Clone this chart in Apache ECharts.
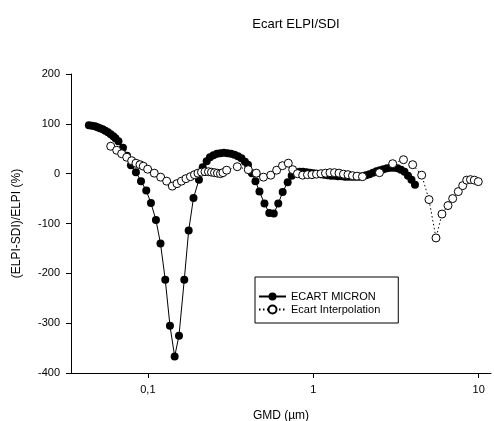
<!DOCTYPE html>
<html>
<head>
<meta charset="utf-8">
<script src="https://cdn.jsdelivr.net/npm/echarts@6/dist/echarts.min.js"></script>
<style>html,body{margin:0;padding:0;background:#fff}#c{width:494px;height:421px}</style>
</head>
<body>
<div id="c"></div>
<script>
// ECART MICRON: GMD (µm) and deviation (%)
const micronX = [0.0440,0.0459,0.0479,0.0496,0.0513,0.0533,0.0553,0.0574,0.0596,0.0618,0.0637,0.0664,0.0707,0.0748,0.0790,0.0847,0.0909,0.0978,0.1044,0.1119,0.1192,0.1274,0.1360,0.1452,0.1542,0.1660,0.1765,0.1887,0.2036,0.2145,0.2267,0.2374,0.2492,0.2617,0.2747,0.2884,0.3029,0.3180,0.3339,0.3505,0.3680,0.3864,0.4029,0.4259,0.4472,0.4728,0.5069,0.5420,0.5771,0.6143,0.6531,0.7002,0.7404,0.7805,0.8252,0.8663,0.9097,0.9550,1.0028,1.0529,1.1054,1.1605,1.2185,1.2794,1.3432,1.4102,1.4807,1.5546,1.6322,1.7140,1.7992,1.8892,1.9835,2.0825,2.1866,2.2955,2.4105,2.5309,2.6572,2.7901,2.9296,3.0753,3.2292,3.3897,3.5591,3.7371,3.9232,4.1199];
const micronY = [97,96,95,93,91,89,86,83,79,75,71,65,52,36,17,3,-15,-34,-59,-93,-140,-213,-305,-367,-325,-213,-114,-49,-12,13,25,33,37,40,41,42,41,40,38,35,31,24,18,1,-15,-36,-60,-79,-80,-60,-37,-17,-4,1,4,4,3,2,1,0,-1,-2,-3,-4,-4,-5,-5,-6,-6,-6,-6,-6,-5,-3,-1,2,5,7,9,11,12,12,11,8,4,-4,-12,-22];

// Ecart Interpolation
const interpX = [0.0596,0.0648,0.0694,0.0745,0.0798,0.0847,0.0896,0.0938,0.0997,0.1093,0.1195,0.1299,0.1405,0.1500,0.1596,0.1699,0.1809,0.1913,0.2009,0.2109,0.2215,0.2325,0.2424,0.2528,0.2635,0.2747,0.2844,0.2995,0.3471,0.4046,0.4522,0.4998,0.5534,0.6007,0.6513,0.7062,0.7508,0.8026,0.8628,0.9225,0.9820,1.0455,1.1132,1.1852,1.2618,1.3432,1.4302,1.5223,1.6209,1.7258,1.8373,1.9835,2.5129,3.0205,3.5106,3.9902,4.5229,5.0061,5.5183,5.9990,6.5223,6.9634,7.5283,8.0058,8.4619,8.9207,9.4048,9.9447];
const interpY = [55,47,40,33,26,21,18,15,9,1,-7,-15,-25,-20,-15,-10,-6,-2,1,3,4,4,3,2,1,0,2,7,14,8,1,-7,-3,7,16,21,8,0,-3,-2,-2,-1,0,1,2,2,1,-1,-2,-4,-5,-6,2,20,28,18,-3,-52,-129,-81,-64,-50,-36,-24,-13,-12,-13,-16];

const xTicks = [0.1, 1, 10];
const yMin = -400, yMax = 200, yStep = 100;

const font = 'Liberation Sans, Arial, sans-serif';
const zip = (xs, ys) => xs.map((x, i) => [x, ys[i]]);

const chart = echarts.init(document.getElementById('c'), null, {renderer: 'canvas'});
chart.setOption({
  animation: false,
  backgroundColor: '#fff',
  title: {
    text: 'Ecart ELPI/SDI',
    left: 291, top: 13, textAlign: 'center',
    textStyle: {fontFamily: font, fontSize: 13, fontWeight: 'normal', color: '#000'}
  },
  grid: {left: 71, right: 3, top: 74, bottom: 48, containLabel: false, outerBoundsMode: 'none'},
  legend: {
    left: 255, top: 277, orient: 'vertical',
    borderColor: '#000', borderWidth: 1, borderRadius: 0,
    padding: [14, 18, 8, 3], itemGap: 2,
    itemWidth: 27, itemHeight: 10,
    textStyle: {fontFamily: font, fontSize: 11, color: '#000'},
    data: ['ECART MICRON', 'Ecart Interpolation']
  },
  xAxis: {
    type: 'log', logBase: 10, min: 0.0343, max: 11.87,
    name: 'GMD (µm)', nameLocation: 'middle', nameGap: 37,
    nameTextStyle: {fontFamily: font, fontSize: 12, color: '#000'},
    axisLine: {onZero: false, lineStyle: {color: '#000', width: 1}},
    axisTick: {show: true, length: 5, customValues: xTicks, lineStyle: {color: '#000'}},
    minorTick: {show: false},
    axisLabel: {customValues: xTicks, margin: 11, fontFamily: font, fontSize: 11, color: '#000',
      formatter: v => String(v).replace('.', ',')},
    splitLine: {show: false}
  },
  yAxis: {
    type: 'value', min: yMin, max: yMax, interval: yStep,
    name: '(ELPI-SDI)/ELPI (%)', nameLocation: 'middle', nameGap: 48,
    nameTextStyle: {fontFamily: font, fontSize: 12, color: '#000'},
    axisLine: {show: true, onZero: false, lineStyle: {color: '#000', width: 1}},
    axisTick: {show: true, length: 5, lineStyle: {color: '#000'}},
    axisLabel: {margin: 11, fontFamily: font, fontSize: 11, color: '#000'},
    splitLine: {show: false}
  },
  series: [
    {
      name: 'ECART MICRON', type: 'line', data: zip(micronX, micronY),
      symbol: 'circle', symbolSize: 8, showAllSymbol: true,
      lineStyle: {color: '#000', width: 1},
      itemStyle: {color: '#000', borderColor: '#000', borderWidth: 0},
      z: 2
    },
    {
      name: 'Ecart Interpolation', type: 'line', data: zip(interpX, interpY),
      symbol: 'circle', symbolSize: 8, showAllSymbol: true,
      lineStyle: {color: '#000', width: 1, type: [1.5, 2.5]},
      itemStyle: {color: '#fff', borderColor: '#000', borderWidth: 1},
      z: 3
    }
  ]
});
</script>
</body>
</html>
